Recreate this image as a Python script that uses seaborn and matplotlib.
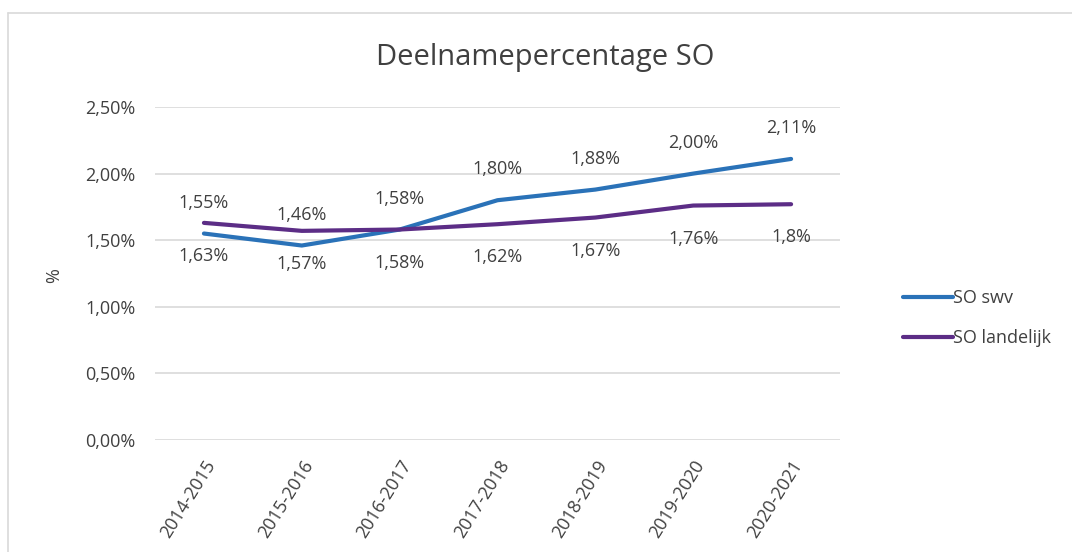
import pandas as pd
import matplotlib
matplotlib.use("Agg")
import matplotlib.pyplot as plt
import seaborn as sns
from matplotlib.lines import Line2D

# Data
years = ['2014-2015', '2015-2016', '2016-2017', '2017-2018',
         '2018-2019', '2019-2020', '2020-2021']
so_swv = [1.55, 1.46, 1.58, 1.80, 1.88, 2.00, 2.11]
so_landelijk = [1.63, 1.57, 1.58, 1.62, 1.67, 1.76, 1.77]
swv_labels = ['1,55%', '1,46%', '1,58%', '1,80%', '1,88%', '2,00%', '2,11%']
landelijk_labels = ['1,63%', '1,57%', '1,58%', '1,62%', '1,67%', '1,76%', '1,8%']
yticks = [0.0, 0.5, 1.0, 1.5, 2.0, 2.5]
ytick_labels = ['0,00%', '0,50%', '1,00%', '1,50%', '2,00%', '2,50%']

series_names = ['SO swv', 'SO landelijk']
colors = {'SO swv': '#2A72B8', 'SO landelijk': '#5C2D86'}

sns.set_style("white")
plt.rcParams['font.family'] = ['Open Sans', 'DejaVu Sans']
text_color = '#404040'
fs = 13

df = pd.DataFrame({
    'jaar': years * 2,
    'waarde': so_swv + so_landelijk,
    'reeks': [series_names[0]] * len(years) + [series_names[1]] * len(years),
})

fig = plt.figure(figsize=(10.72, 5.52), dpi=100)
ax = fig.add_axes([0.1446, 0.2029, 0.6390, 0.6033])

sns.lineplot(data=df, x='jaar', y='waarde', hue='reeks', palette=colors,
             linewidth=3, ax=ax, sort=False)

# data labels: swv above, landelijk below (as in the original)
for i, (v, lab) in enumerate(zip(so_swv, swv_labels)):
    ax.annotate(lab, (i, v), xytext=(0, 31), textcoords='offset pixels',
                ha='center', va='center', fontsize=fs, color=text_color)
for i, (v, lab) in enumerate(zip(so_landelijk, landelijk_labels)):
    ax.annotate(lab, (i, v), xytext=(0, -33), textcoords='offset pixels',
                ha='center', va='center', fontsize=fs, color=text_color)

ax.set_xlim(-0.5, len(years) - 0.5)
ax.set_ylim(0, 2.5)
ax.set_yticks(yticks)
ax.set_yticklabels(ytick_labels, fontsize=fs, color=text_color)
ax.set_xticks(range(len(years)))
ax.set_xticklabels(years, rotation=58, ha='right', rotation_mode='anchor',
                   fontsize=fs, color=text_color)
ax.tick_params(axis='y', length=0, pad=14)
ax.tick_params(axis='x', length=0, pad=12)
ax.yaxis.grid(True, color='#D9D9D9', linewidth=1.2)
ax.set_axisbelow(True)
for s in ax.spines.values():
    s.set_visible(False)

ax.set_xlabel('')
ax.set_ylabel('%', fontsize=fs, color=text_color)
ax.yaxis.set_label_coords(-0.134, 0.495)
ax.set_title('')
fig.text(545 / 1072, 1 - 57 / 552, 'Deelnamepercentage SO', fontsize=21,
         color=text_color, ha='center', va='center')

leg = ax.legend(loc='center left', bbox_to_anchor=(1.068, 0.366), frameon=False,
                handlelength=2.8, handletextpad=0.0, labelspacing=1.2,
                fontsize=fs)
for t in leg.get_texts():
    t.set_color(text_color)
for h in leg.get_lines():
    h.set_linewidth(3)

# light chart-area border (top and left)
fig.add_artist(Line2D([8 / 1072, 1.0], [1 - 13 / 552, 1 - 13 / 552],
                      color='#D9D9D9', linewidth=1.2, transform=fig.transFigure))
fig.add_artist(Line2D([8 / 1072, 8 / 1072], [0.0, 1 - 13 / 552],
                      color='#D9D9D9', linewidth=1.2, transform=fig.transFigure))

fig.savefig('out.png', dpi=100)
